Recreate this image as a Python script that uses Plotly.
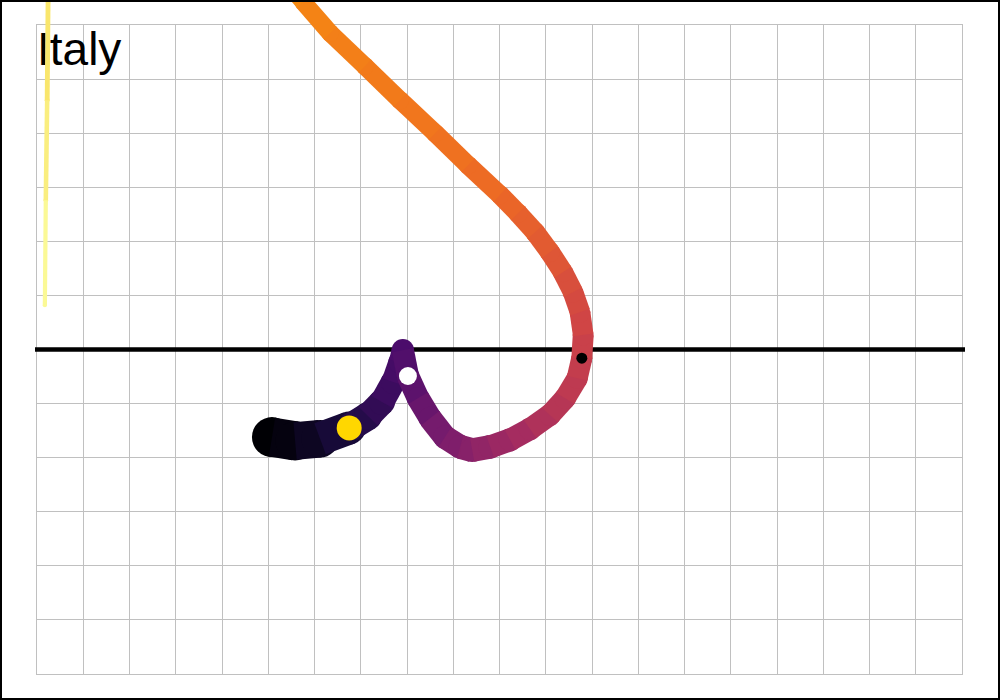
import numpy as np
import plotly.graph_objects as go
from plotly.colors import sample_colorscale

# ---------------- data ----------------
title_text = "Italy"

# time index (days) of each point of the trajectory
day = [0, 4, 7, 12, 15, 18, 20, 22, 23, 25,
       28, 31, 34, 36, 38, 41, 43, 46, 48, 50,
       52, 53, 55, 57, 58, 60, 62, 63, 65, 66,
       68, 69, 70, 71, 72, 73, 75, 80, 86, 91,
       93, 95, 97, 100]

# trajectory coordinates (grid units)
x_val = [5.08, 5.58, 6.12, 6.75, 7.16, 7.46, 7.70, 7.85, 7.91, 8.02,
         8.24, 8.50, 8.82, 9.15, 9.41, 9.80, 10.23, 10.66, 11.09, 11.42,
         11.68, 11.78, 11.81, 11.74, 11.59, 11.37, 11.09, 10.77, 10.40, 10.01,
         9.32, 8.61, 7.85, 7.09, 6.34, 5.75, 5.04, 3.52, 1.36, 0.39,
         0.24, 0.22, 0.19, 0.17]
y_val = [-1.62, -1.69, -1.65, -1.45, -1.23, -0.97, -0.60, -0.23, -0.01, -0.49,
         -0.90, -1.27, -1.62, -1.80, -1.86, -1.80, -1.67, -1.47, -1.21, -0.90,
         -0.53, -0.16, 0.27, 0.69, 1.06, 1.43, 1.80, 2.17, 2.52, 2.86,
         3.41, 4.00, 4.61, 5.24, 5.85, 6.43, 7.11, 8.13, 8.31, 7.39,
         6.50, 4.61, 2.76, 0.82]

# days highlighted with dots
marker_day_yellow = 12
marker_day_white = 25
marker_day_black = 53

# grid extent (grid units)
grid_x = [0, 20]
grid_y = [-6, 6]
baseline_y = 0

# ---------------- styles ----------------
W, H = 1000, 700
GX0, GX1 = 37, 962      # grid pixel extents
GY0, GY1 = 25, 674
TITLE_DROP_PX = 5
WIDTH_DAYS = [0, 7, 12, 18, 23, 29, 38, 46, 53, 62, 66, 73, 93, 100]
WIDTH_PX = [40, 37, 29, 25, 22, 23, 24, 22, 21, 20, 19, 17.5, 5, 4]

d = np.array(day, dtype=float)
frac = d / d.max()
widths = np.interp(d, WIDTH_DAYS, WIDTH_PX)
colors = sample_colorscale("Inferno", list(frac))

# full-figure axis ranges matching the grid scale
sx = (GX1 - GX0) / (grid_x[1] - grid_x[0])
sy = (GY1 - GY0) / (grid_y[1] - grid_y[0])
full_x = [grid_x[0] - GX0 / sx, grid_x[1] + (W - GX1) / sx]
full_y = [grid_y[0] - (H - GY1) / sy, grid_y[1] + GY0 / sy]

fig = go.Figure()

# grid subplot (x / y)
fig.add_trace(go.Scatter(x=[None], y=[None], xaxis="x", yaxis="y",
                         showlegend=False, hoverinfo="skip"))

# title text (under the curve)
fig.add_trace(go.Scatter(x=[grid_x[0]], y=[grid_y[1] - TITLE_DROP_PX / sy], mode="text",
                         text=[title_text], textposition="bottom right",
                         textfont=dict(family="Liberation Sans, Arial", size=46, color="black"),
                         xaxis="x2", yaxis="y2", showlegend=False, hoverinfo="skip"))

# baseline
fig.add_trace(go.Scatter(x=[grid_x[0] - 2 / sx, grid_x[1] + 3 / sx], y=[baseline_y, baseline_y],
                         mode="lines", line=dict(color="black", width=4.5),
                         xaxis="x2", yaxis="y2", showlegend=False, hoverinfo="skip"))

# trajectory as coloured segments with varying width (round joins via markers)
n = len(x_val)
fig.add_trace(go.Scatter(x=[x_val[0]], y=[y_val[0]], mode="markers",
                         marker=dict(color=colors[0], size=widths[0], line=dict(width=0)),
                         xaxis="x2", yaxis="y2", showlegend=False, hoverinfo="skip"))
for i in range(n - 1):
    mid = (frac[i] + frac[i + 1]) / 2
    c = sample_colorscale("Inferno", [mid])[0]
    w = (widths[i] + widths[i + 1]) / 2
    fig.add_trace(go.Scatter(x=[x_val[i], x_val[i + 1]], y=[y_val[i], y_val[i + 1]],
                             mode="lines", line=dict(color=c, width=w),
                             xaxis="x2", yaxis="y2", showlegend=False, hoverinfo="skip"))
    fig.add_trace(go.Scatter(x=[x_val[i + 1]], y=[y_val[i + 1]], mode="markers",
                             marker=dict(color=c, size=w, line=dict(width=0)),
                             xaxis="x2", yaxis="y2", showlegend=False, hoverinfo="skip"))

# highlighted dots
for md, col, sz in [(marker_day_yellow, "#FFD700", 25),
                    (marker_day_white, "white", 18),
                    (marker_day_black, "black", 11)]:
    k = day.index(md)
    fig.add_trace(go.Scatter(x=[x_val[k]], y=[y_val[k]], mode="markers",
                             marker=dict(color=col, size=sz, line=dict(width=0)),
                             xaxis="x2", yaxis="y2", showlegend=False, hoverinfo="skip"))

grid_style = dict(showgrid=True, gridcolor="#c0c0c0", gridwidth=1, dtick=1,
                  showticklabels=False, ticks="", zeroline=False,
                  showline=True, mirror=True, linecolor="#c0c0c0", linewidth=1)
hidden = dict(showgrid=False, showticklabels=False, ticks="", zeroline=False, showline=False)

fig.update_layout(
    width=W, height=H,
    margin=dict(l=0, r=0, t=0, b=0),
    paper_bgcolor="white", plot_bgcolor="rgba(0,0,0,0)",
    xaxis=dict(domain=[GX0 / W, GX1 / W], range=grid_x, anchor="y", **grid_style),
    yaxis=dict(domain=[1 - GY1 / H, 1 - GY0 / H], range=grid_y, anchor="x", **grid_style),
    xaxis2=dict(domain=[0, 1], range=full_x, anchor="y2", **hidden),
    yaxis2=dict(domain=[0, 1], range=full_y, anchor="x2", **hidden),
    shapes=[dict(type="rect", xref="paper", yref="paper", x0=0, x1=1, y0=0, y1=1,
                 line=dict(color="black", width=4), layer="above")],
    showlegend=False,
)

fig.write_html("out.html", config={"displayModeBar": False},
               post_script="document.body.style.margin='0';document.body.style.padding='0';")
